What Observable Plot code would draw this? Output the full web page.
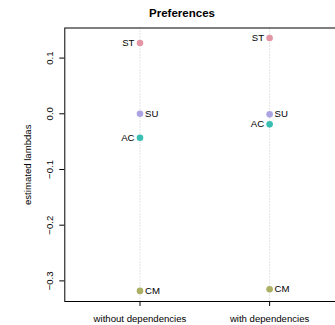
<!DOCTYPE html>
<html>
<head>
<meta charset="utf-8">
<script src="https://cdn.jsdelivr.net/npm/d3@7"></script>
<script src="https://cdn.jsdelivr.net/npm/@observablehq/plot@0.6"></script>
<style>
  html, body { margin: 0; padding: 0; background: #fff; }
  svg { display: block; }
</style>
</head>
<body>
<div id="chart"></div>
<script>
const conditions = ["without dependencies", "with dependencies"];
const items = ["ST", "SU", "AC", "CM"];
const withoutDeps = [0.127, 0.000, -0.043, -0.318];
const withDeps = [0.136, -0.001, -0.019, -0.315];
const itemColors = ["#E495A5", "#ACA4E2", "#39BEB1", "#ABB065"];
const labelSide = ["left", "right", "left", "right"];
const yTicks = [-0.3, -0.2, -0.1, 0.0, 0.1];
const title = "Preferences";
const yLabel = "estimated lambdas";

const series = [withoutDeps, withDeps];
const rows = [];
series.forEach((vals, ci) => {
  vals.forEach((v, ii) => {
    rows.push({cond: ci + 1, item: items[ii], value: v, side: labelSide[ii]});
  });
});
const xPos = conditions.map((_, i) => i + 1);
const fmt = d => (d === 0 ? "0.0" : d.toFixed(1).replace("-", "\u2212"));
const font = "'Liberation Sans', Arial, Helvetica, sans-serif";

const chart = Plot.plot({
  width: 335,
  height: 325,
  marginLeft: 64.3,
  marginRight: -9.3,
  marginTop: 27.5,
  marginBottom: 24,
  x: {type: "linear", domain: [0.42, 2.58], axis: null},
  y: {domain: [-0.337, 0.154], axis: null},
  color: {domain: items, range: itemColors},
  style: {fontFamily: font, fontSize: "9.6px", background: "white", overflow: "hidden", color: "black"},
  marks: [
    Plot.ruleX(xPos, {stroke: "#c8c8c8", strokeDasharray: "1,2", strokeWidth: 1}),
    Plot.frame({stroke: "black", strokeWidth: 1}),
    Plot.axisY(yTicks, {tickSize: 5, tickFormat: () => "", label: null, stroke: "black"}),
    Plot.text(yTicks, {y: d => d, text: fmt, frameAnchor: "left", dx: -12.3, rotate: -90, textAnchor: "middle", lineAnchor: "bottom", fill: "black", fontSize: 9.6}),
    Plot.axisX(xPos, {tickSize: 5, tickPadding: 9, tickFormat: d => conditions[d - 1], label: null, fontSize: 9.6, stroke: "black"}),
    Plot.dot(rows, {x: "cond", y: "value", fill: "item", r: 3.3}),
    Plot.text(rows.filter(d => d.side === "left"), {x: "cond", y: "value", text: "item", textAnchor: "end", dx: -5.5, fill: "black", fontSize: 9.6}),
    Plot.text(rows.filter(d => d.side === "right"), {x: "cond", y: "value", text: "item", textAnchor: "start", dx: 5, fill: "black", fontSize: 9.6}),
    Plot.text([title], {text: d => d, frameAnchor: "top-left", dx: 117.2, dy: -11.5, textAnchor: "middle", lineAnchor: "bottom", fontWeight: "bold", fontSize: 11.5, fill: "black"}),
    Plot.text([yLabel], {text: d => d, frameAnchor: "left", dx: -34.3, rotate: -90, textAnchor: "middle", lineAnchor: "bottom", fill: "black", fontSize: 9.6})
  ]
});
document.getElementById("chart").appendChild(chart);
</script>
</body>
</html>
